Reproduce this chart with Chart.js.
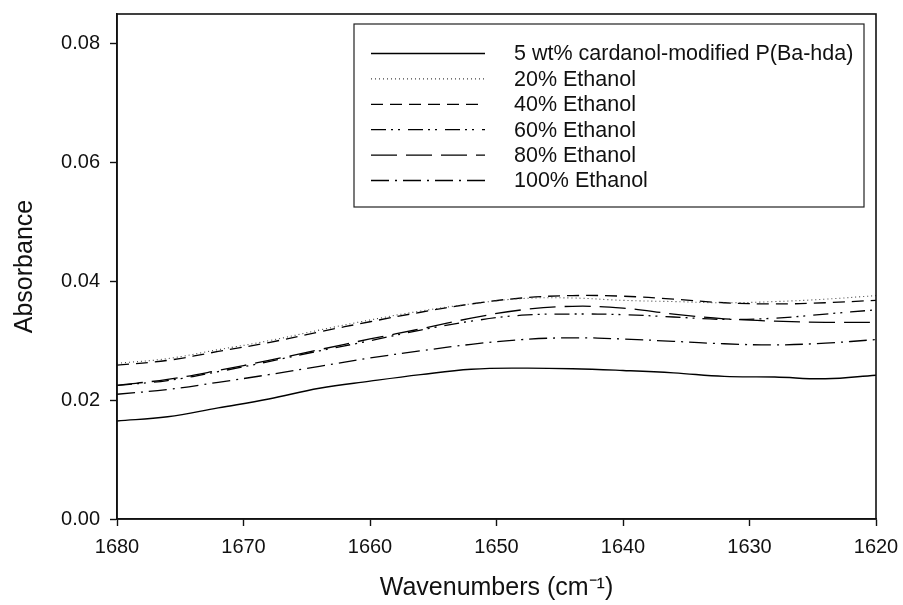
<!DOCTYPE html>
<html>
<head>
<meta charset="utf-8">
<script src="https://cdn.jsdelivr.net/npm/chart.js@4.4.1/dist/chart.umd.min.js"></script>
<style>
  html, body { margin: 0; padding: 0; background: #fff; }
  #wrap { width: 903px; height: 605px; }
</style>
</head>
<body>
<div id="wrap"><canvas id="chart" width="903" height="605"></canvas></div>
<script>
var wavenumbers = [1680, 1676, 1672, 1668, 1664, 1660, 1656, 1652, 1648, 1644, 1640, 1636, 1632, 1628, 1624, 1620]

var labels = [
  '5 wt% cardanol-modified P(Ba-hda)'
, '20% Ethanol'
, '40% Ethanol'
, '60% Ethanol'
, '80% Ethanol'
, '100% Ethanol'
]

var cardanol = [0.0165, 0.0172, 0.0187, 0.0202, 0.0220, 0.0232, 0.0243, 0.0252, 0.0254, 0.0253, 0.0250, 0.0246, 0.0240, 0.0239, 0.0236, 0.0242]
var ethanol20 = [0.0262, 0.0270, 0.0285, 0.0300, 0.0318, 0.0335, 0.0350, 0.0362, 0.0371, 0.0372, 0.0368, 0.0366, 0.0364, 0.0366, 0.0370, 0.0376]
var ethanol40 = [0.0259, 0.0267, 0.0282, 0.0297, 0.0315, 0.0332, 0.0348, 0.0362, 0.0372, 0.0376, 0.0375, 0.0370, 0.0364, 0.0362, 0.0364, 0.0368]
var ethanol60 = [0.0225, 0.0233, 0.0248, 0.0265, 0.0283, 0.0300, 0.0318, 0.0333, 0.0343, 0.0345, 0.0344, 0.0340, 0.0336, 0.0338, 0.0345, 0.0352]
var ethanol80 = [0.0225, 0.0235, 0.0250, 0.0267, 0.0285, 0.0303, 0.0320, 0.0338, 0.0352, 0.0358, 0.0355, 0.0345, 0.0337, 0.0333, 0.0331, 0.0331]
var ethanol100 = [0.0210, 0.0218, 0.0230, 0.0243, 0.0257, 0.0271, 0.0283, 0.0294, 0.0302, 0.0305, 0.0303, 0.0299, 0.0295, 0.0293, 0.0296, 0.0302]

var series = [cardanol, ethanol20, ethanol40, ethanol60, ethanol80, ethanol100]
var dashes = [[], [1, 3], [12, 7], [15, 5, 2, 5, 2, 8], [26, 9], [18, 6, 2, 6]]
var widths = [1.4, 1.1, 1.3, 1.3, 1.3, 1.3]
var colors = ['#000', '#444', '#000', '#000', '#000', '#000']

var font = '"Liberation Sans", Arial, sans-serif'

var toPoints = function (values) {
  return values.map(function (v, i) { return {x: wavenumbers[i], y: v} })
}

var datasets = series.map(function (values, i) {
  return {
    label: labels[i]
  , data: toPoints(values)
  , borderColor: colors[i]
  , borderWidth: widths[i]
  , borderDash: dashes[i]
  , pointRadius: 0
  , tension: 0.4
  , fill: false
  }
})

// box around the plot area
var frame = {
  id: 'frame'
, afterDraw: function (chart) {
    var a = chart.chartArea
    var ctx = chart.ctx
    ctx.save()
    ctx.strokeStyle = '#111'
    ctx.lineWidth = 1.6
    ctx.strokeRect(a.left, a.top, a.right - a.left, a.bottom - a.top)
    ctx.restore()
  }
}

// legend drawn inside the plot, top right
var insetLegend = {
  id: 'insetLegend'
, afterDraw: function (chart) {
    var a = chart.chartArea
    var ctx = chart.ctx
    var left = a.left + 237
    var top = a.top + 10
    var right = a.right - 12
    var bottom = top + 183
    var rowH = 25.4
    ctx.save()
    ctx.fillStyle = '#fff'
    ctx.fillRect(left, top, right - left, bottom - top)
    ctx.strokeStyle = '#222'
    ctx.lineWidth = 1.2
    ctx.strokeRect(left, top, right - left, bottom - top)
    ctx.font = '21.5px ' + font
    ctx.textBaseline = 'middle'
    chart.data.datasets.forEach(function (ds, i) {
      var y = top + 29.5 + i * rowH
      ctx.beginPath()
      ctx.setLineDash(ds.borderDash)
      ctx.strokeStyle = ds.borderColor
      ctx.lineWidth = ds.borderWidth
      ctx.moveTo(left + 17, y)
      ctx.lineTo(left + 131, y)
      ctx.stroke()
      ctx.setLineDash([])
      ctx.fillStyle = '#111'
      ctx.fillText(ds.label, left + 160, y + 1)
    })
    ctx.restore()
  }
}

var tickGrid = {
  display: true
, drawOnChartArea: false
, drawTicks: true
, tickLength: 7
, tickWidth: 1.4
, tickColor: '#111'
}

new Chart(document.getElementById('chart'), {
  type: 'line'
, data: { datasets: datasets }
, options: {
    responsive: false
  , animation: false
  , layout: { padding: { top: 14, right: 27, left: 0, bottom: 0 } }
  , plugins: {
      legend: { display: false }
    , tooltip: { enabled: false }
    }
  , scales: {
      x: {
        type: 'linear'
      , reverse: true
      , min: 1620
      , max: 1680
      , grid: tickGrid
      , border: { display: true, color: '#111', width: 1.6 }
      , ticks: {
          stepSize: 10
        , color: '#111'
        , padding: 9
        , font: { family: font, size: 20 }
        , callback: function (v) { return String(v) }
        }
      , title: {
          display: true
        , text: 'Wavenumbers (cm\u207B\u00B9)'
        , color: '#111'
        , font: { family: font, size: 25 }
        , padding: { top: 0, bottom: 2 }
        }
      , afterFit: function (scale) {
          scale.height = 86
          scale.paddingLeft = 0
          scale.paddingRight = 0
        }
      }
    , y: {
        min: 0
      , max: 0.085
      , grid: tickGrid
      , border: { display: true, color: '#111', width: 1.6 }
      , ticks: {
          stepSize: 0.02
        , includeBounds: false
        , color: '#111'
        , padding: 10
        , font: { family: font, size: 20 }
        , callback: function (v) { return v.toFixed(2) }
        }
      , title: {
          display: true
        , text: 'Absorbance'
        , color: '#111'
        , font: { family: font, size: 25 }
        , padding: { top: 10, bottom: 0 }
        }
      , afterFit: function (scale) {
          scale.width = 117
          scale.paddingTop = 0
          scale.paddingBottom = 0
        }
      }
    }
  }
, plugins: [frame, insetLegend]
})
</script>
</body>
</html>
